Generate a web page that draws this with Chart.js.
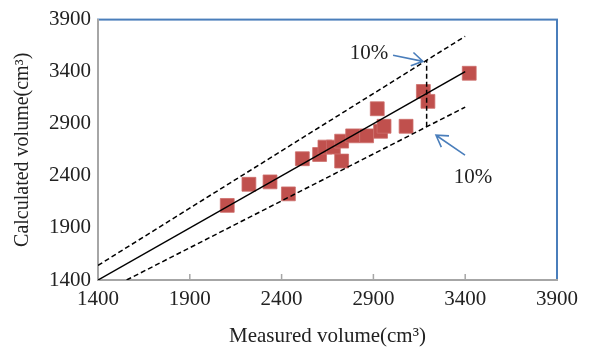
<!DOCTYPE html>
<html>
<head>
<meta charset="utf-8">
<script src="https://cdn.jsdelivr.net/npm/chart.js@4/dist/chart.umd.min.js"></script>
<style>
  body { margin: 0; background: #fff; }
  canvas { display: block; }
</style>
</head>
<body>
<canvas id="chart" width="594" height="349"></canvas>
<script>
// Measured vs calculated volume (cm3)
const measured = [2104, 2222, 2337, 2437, 2513, 2607, 2636, 2682, 2727, 2727, 2787, 2863, 2921, 2939, 2958, 3078, 3172, 3197, 3422];
const calculated = [2116, 2319, 2342, 2227, 2564, 2605, 2676, 2676, 2733, 2542, 2784, 2784, 3044, 2828, 2876, 2876, 3210, 3115, 3385];

// reference lines: 1:1 line and +/-10% band
const lineX = [1400, 3400];
const lineY = [1400, 3400];
const upperX = [1400, 3400];
const upperY = [1540, 3740];
const lowerX = [1556, 3400];
const lowerY = [1400, 3060];
const markerX = [3190, 3190];
const markerY = [2871, 3509];

const tickValues = [1400, 1900, 2400, 2900, 3400, 3900];

// "10%" notes with arrows (data coords)
const noteLabels = ['10%', '10%'];
const noteX = [2876, 3442];
const noteY = [3576, 2383];
const arrowFrom = [[3007, 3557], [3399, 2599]];
const arrowTo = [[3170, 3499], [3241, 2790]];

const FONT = 'Liberation Serif, Times New Roman, serif';

function pairs(xs, ys) {
    return xs.map((x, i) => ({ x: x, y: ys[i] }));
}

function lineSet(xs, ys, dash) {
    return {
        type: 'line',
        data: pairs(xs, ys),
        borderColor: '#000',
        borderWidth: 1.5,
        borderDash: dash,
        pointRadius: 0,
        fill: false,
        order: 1
    };
}

// plot frame: blue box, grey axes drawn by the scales on top of it
const framePlugin = {
    id: 'frame',
    beforeDraw(chart) {
        const { ctx, chartArea: a } = chart;
        ctx.save();
        ctx.strokeStyle = '#4A7EBB';
        ctx.lineWidth = 2;
        ctx.strokeRect(a.left, a.top, a.right - a.left, a.bottom - a.top);
        ctx.restore();
    },
    afterDraw(chart) {
        const { ctx, scales } = chart;
        const xs = scales.x, ys = scales.y;
        ctx.save();
        // small inward ticks on the x axis
        ctx.strokeStyle = '#A6A6A6';
        ctx.lineWidth = 1.5;
        tickValues.slice(1, -1).forEach(v => {
            const px = xs.getPixelForValue(v);
            ctx.beginPath();
            ctx.moveTo(px, ys.bottom);
            ctx.lineTo(px, ys.bottom - 6);
            ctx.stroke();
        });
        // notes
        ctx.fillStyle = '#222';
        ctx.font = '21px ' + FONT;
        ctx.textAlign = 'center';
        ctx.textBaseline = 'middle';
        noteLabels.forEach((t, i) => {
            ctx.fillText(t, xs.getPixelForValue(noteX[i]), ys.getPixelForValue(noteY[i]));
        });
        // arrows
        ctx.strokeStyle = '#4A7EBB';
        ctx.lineWidth = 1.6;
        arrowFrom.forEach((f, i) => {
            const x0 = xs.getPixelForValue(f[0]), y0 = ys.getPixelForValue(f[1]);
            const x1 = xs.getPixelForValue(arrowTo[i][0]), y1 = ys.getPixelForValue(arrowTo[i][1]);
            const ang = Math.atan2(y1 - y0, x1 - x0);
            ctx.beginPath();
            ctx.moveTo(x0, y0);
            ctx.lineTo(x1, y1);
            ctx.moveTo(x1 - 13 * Math.cos(ang - 0.55), y1 - 13 * Math.sin(ang - 0.55));
            ctx.lineTo(x1, y1);
            ctx.lineTo(x1 - 13 * Math.cos(ang + 0.55), y1 - 13 * Math.sin(ang + 0.55));
            ctx.stroke();
        });
        ctx.restore();
    }
};

const axisTicks = {
    font: { family: FONT, size: 21 },
    color: '#222',
    padding: 7,
    callback: (v) => String(v)
};

new Chart(document.getElementById('chart'), {
    type: 'scatter',
    data: {
        datasets: [
            lineSet(lineX, lineY, []),
            lineSet(upperX, upperY, [5, 3]),
            lineSet(lowerX, lowerY, [5, 3]),
            lineSet(markerX, markerY, [5, 3]),
            {
                data: pairs(measured, calculated),
                pointStyle: 'rect',
                pointRadius: 9.8,
                backgroundColor: '#C0504D',
                borderColor: 'rgba(205,110,107,0.8)',
                borderWidth: 1,
                order: 5
            }
        ]
    },
    options: {
        responsive: false,
        animation: false,
        layout: { padding: { top: 17, right: 37, left: 0, bottom: 0 } },
        plugins: {
            legend: { display: false },
            tooltip: { enabled: false }
        },
        scales: {
            x: {
                type: 'linear',
                min: 1400,
                max: 3900,
                afterBuildTicks: (scale) => { scale.ticks = tickValues.map(v => ({ value: v })); },
                afterFit: (scale) => { scale.height = 69; },
                grid: { display: false, drawTicks: false },
                border: { display: true, color: '#A6A6A6', width: 2 },
                ticks: axisTicks,
                title: {
                    display: true,
                    text: 'Measured volume(cm³)',
                    font: { family: FONT, size: 21 },
                    color: '#222',
                    padding: { top: 0, bottom: 0 }
                }
            },
            y: {
                type: 'linear',
                min: 1400,
                max: 3900,
                afterBuildTicks: (scale) => { scale.ticks = tickValues.map(v => ({ value: v })); },
                afterFit: (scale) => { scale.width = 98; },
                grid: { display: false, drawTicks: false },
                border: { display: true, color: '#A6A6A6', width: 2 },
                ticks: axisTicks,
                title: {
                    display: true,
                    text: 'Calculated volume(cm³)',
                    font: { family: FONT, size: 20 },
                    color: '#222',
                    padding: { top: 11, bottom: 0 }
                }
            }
        }
    },
    plugins: [framePlugin]
});
</script>
</body>
</html>
